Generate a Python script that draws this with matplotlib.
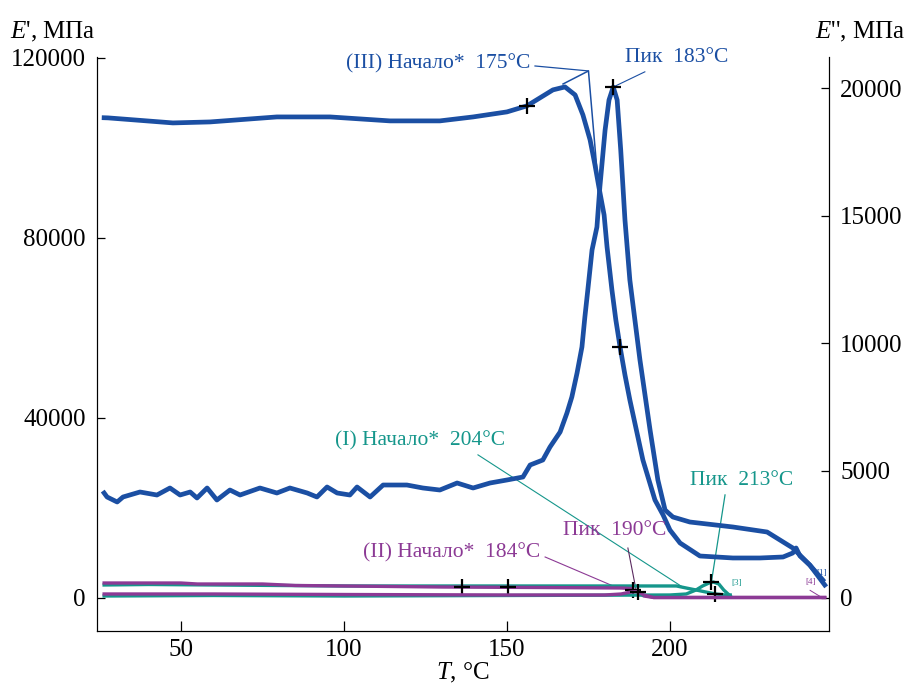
import matplotlib
matplotlib.use("Agg")
import matplotlib.pyplot as plt
import numpy as np

plt.rcParams["font.family"] = ["Liberation Serif", "DejaVu Serif"]
plt.rcParams["mathtext.fontset"] = "custom"
plt.rcParams["mathtext.rm"] = "Liberation Serif"
plt.rcParams["mathtext.it"] = "Liberation Serif:italic"

BLUE = "#1b4fa3"
TEAL = "#15968b"
PURPLE = "#8c3a95"

# sample III, E' (left axis), MPa
t_e1_iii = [26.4, 27.6, 47.5, 58.9, 79.4, 95.7, 114.1, 129.4, 139.6, 150.0, 156.1,
            164.1, 167.8, 170.9, 173.3, 175.5, 177.0, 178.2, 179.8, 180.7, 182.2,
            183.4, 184.7, 186.2, 187.7, 191.7, 195.4, 197.9, 200.0, 203.1, 209.2,
            219.3, 227.6, 234.7, 237.7, 238.7, 239.9, 242.9, 247.5]
e1_iii = [106700, 106670, 105550, 105770, 106880, 106880, 106000, 106000, 106880, 108000, 109330,
          112890, 113550, 111770, 107330, 101770, 96210, 91320, 85100, 78000, 68440,
          61770, 55770, 49550, 44000, 30660, 21780, 18440, 15100, 12220, 9330,
          8890, 8890, 9110, 10000, 11110, 9330, 7330, 2890]

# sample III, E'' (right axis), MPa
t_e2_iii = [26.4, 27.3, 30.4, 32.2, 37.4, 42.6, 46.6, 49.7, 52.8, 54.9, 58.0, 61.0,
            65.0, 68.1, 74.2, 79.4, 83.4, 88.7, 91.7, 94.8, 97.9, 101.8, 104.0, 108.0,
            112.0, 119.3, 124.2, 129.4, 134.7, 139.6, 144.8, 150.0, 154.9, 157.1,
            161.0, 163.2, 166.3, 168.4, 169.9, 171.5, 173.0, 173.9, 174.8, 176.1,
            177.6, 178.5, 180.1, 181.3, 182.6, 183.8, 184.9, 186.2, 187.7, 190.8,
            193.9, 196.3, 198.5, 200.9, 206.1, 219.3, 229.8, 237.7, 242.9, 246.9]
e2_iii = [4118, 3961, 3765, 3961, 4157, 4039, 4314, 4039, 4157, 3922, 4314, 3843,
          4235, 4039, 4314, 4118, 4314, 4118, 3961, 4353, 4118, 4039, 4353, 3961,
          4431, 4431, 4314, 4235, 4510, 4314, 4510, 4628, 4745, 5216,
          5412, 5922, 6510, 7255, 7883, 8824, 9844, 11020, 12080, 13650,
          14550, 16120, 18350, 19530, 20040, 19530, 17570, 14825, 12470, 9334,
          6590, 4628, 3451, 3177, 2980, 2785, 2588, 1961, 1294, 706]

# sample I, E' (left) and E'' (right)
t_e1_i = [26.4, 40, 60, 80, 100, 120, 140, 160, 180, 195, 202, 205, 208, 211, 214, 217, 218.5]
e1_i = [2890, 3000, 2890, 2780, 2670, 2670, 2670, 2670, 2670, 2670, 2670, 2220, 1780,
        1330, 890, 670, 670]
t_e2_i = [26.4, 60, 100, 150, 200, 205, 208, 210, 212, 213.3, 215, 216.5, 218.5]
e2_i = [78, 98, 78, 98, 118, 157, 314, 470, 588, 627, 549, 314, 78]

# sample II, E' (left) and E'' (right)
t_e1_ii = [26.4, 50, 55, 75, 85, 130, 160, 185, 188, 190, 192, 195, 220, 247.5]
e1_ii = [3330, 3330, 3110, 3110, 2780, 2440, 2330, 2220, 2110, 1330, 440, 110, 110, 110]
t_e2_ii = [26.4, 60, 100, 150, 180, 185, 188, 190, 192, 195, 247.5]
e2_ii = [157, 157, 137, 118, 118, 157, 235, 255, 118, 20, 20]

onset_iii, peak_iii = 175, 183
onset_i, peak_i = 204, 213
onset_ii, peak_ii = 184, 190

fig = plt.figure(figsize=(9.07, 6.89), dpi=100)
ax = fig.add_axes([0.1069, 0.0842, 0.8071, 0.8331])
ax2 = ax.twinx()

ax.plot(t_e1_iii, e1_iii, color=BLUE, lw=3.4, zorder=3)
ax2.plot(t_e2_iii, e2_iii, color=BLUE, lw=3.4, zorder=3)
ax.plot(t_e1_i, e1_i, color=TEAL, lw=2.4, zorder=4)
ax2.plot(t_e2_i, e2_i, color=TEAL, lw=2.4, zorder=4)
ax.plot(t_e1_ii, e1_ii, color=PURPLE, lw=2.4, zorder=4)
ax2.plot(t_e2_ii, e2_ii, color=PURPLE, lw=2.4, zorder=4)

ax.set_xlim(24.2, 248.8)
ax.set_ylim(-7330, 120200)
ax2.set_ylim(-1294, 21218)

ax.set_xticks([50, 100, 150, 200])
ax.set_yticks([0, 40000, 80000, 120000])
ax2.set_yticks([0, 5000, 10000, 15000, 20000])
for a in (ax, ax2):
    a.spines["top"].set_visible(False)
    a.tick_params(direction="in", length=6, width=0.9, labelsize=18, pad=8)
ax.tick_params(axis="x", length=7, pad=6)

ax.set_xlabel("$T$, °C", fontsize=18, labelpad=0)
fig.text(10 / 907, 1 - 32 / 689, "$E$', МПа", fontsize=18, ha="left", va="center")
fig.text(905 / 907, 1 - 32 / 689, "$E$'', МПа", fontsize=18, ha="right", va="center")

# markers
mk = dict(marker="+", color="black", ms=11, mew=1.6, ls="none", zorder=6)
ax.plot([156.1, 184.7], np.interp([156.1, 184.7], t_e1_iii, e1_iii), **mk)
i_pk = int(np.argmax(e2_iii))
ax2.plot([t_e2_iii[i_pk]], [e2_iii[i_pk]], **mk)
ax.plot([136.2, 150.3, 188.7], np.interp([136.2, 150.3, 188.7], t_e1_ii, e1_ii), **mk)
ax.plot([213.8], np.interp([213.8], t_e1_i, e1_i), **mk)
ax2.plot([190.2], np.interp([190.2], t_e2_ii, e2_ii), **mk)
ax2.plot([peak_i - 0.3], np.interp([peak_i - 0.3], t_e2_i, e2_i), **mk)

# sample III annotations (left axis units)
ax.text(157.1, 118650, "(III) Начало*  175°C", color=BLUE, fontsize=15.5, ha="right", va="center")
on_y = 117100
ax.plot([158.6, onset_iii], [118200, on_y], color=BLUE, lw=0.9)
ax.plot([167.2, onset_iii, 177.6], [114200, on_y, 95100], color=BLUE, lw=1.1)
ax.text(186.2, 120000, "Пик  183°C", color=BLUE, fontsize=15.5, ha="left", va="center")
pk_y = ax.transData.inverted().transform(
    ax2.transData.transform((t_e2_iii[i_pk], e2_iii[i_pk])))[1]
ax.plot([192.3, t_e2_iii[i_pk]], [116900, pk_y], color=BLUE, lw=0.8)

# sample I annotations
ax.text(149.4, 34900, "(I) Начало*  204°C", color=TEAL, fontsize=15.5, ha="right", va="center")
ax.plot([141.1, onset_i], [31800, np.interp(onset_i, t_e1_i, e1_i)], color=TEAL, lw=0.8)
ax.text(206.1, 26000, "Пик  213°C", color=TEAL, fontsize=15.5, ha="left", va="center")
pk_i = ax.transData.inverted().transform(
    ax2.transData.transform((peak_i - 0.3, np.interp(peak_i - 0.3, t_e2_i, e2_i))))[1]
ax.plot([216.9, peak_i - 0.3], [22900, pk_i], color=TEAL, lw=0.9)
ax.text(218.8, 3300, "[3]", color=TEAL, fontsize=6.5, ha="left", va="center")

# sample II annotations
ax.text(160.1, 10000, "(II) Начало*  184°C", color=PURPLE, fontsize=15.5, ha="right", va="center")
ax.plot([161.7, onset_ii], [9110, np.interp(onset_ii, t_e1_ii, e1_ii)], color=PURPLE, lw=0.8)
ax.text(167.2, 15100, "Пик  190°C", color=PURPLE, fontsize=15.5, ha="left", va="center")
ax.plot([187.1, 189.6], [11100, 1800], color="#5a2a60", lw=0.8)
ax.text(241.5, 3500, "[4]", color=PURPLE, fontsize=6.5, ha="left", va="center")
ax.plot([243.0, 246.5], [1700, 150], color=PURPLE, lw=0.7)
ax.text(245.0, 5500, "[1]", color=BLUE, fontsize=6.5, ha="left", va="center")

fig.savefig("out.png", dpi=100)
